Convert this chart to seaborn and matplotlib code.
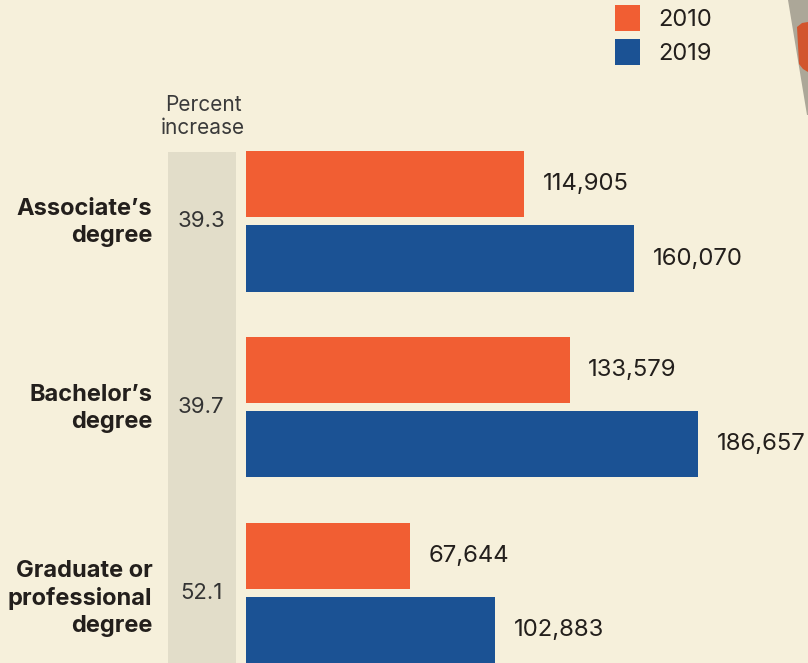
import matplotlib
matplotlib.use("Agg")
import matplotlib.pyplot as plt
import matplotlib.transforms as mtransforms
from matplotlib.patches import Rectangle, Patch, Polygon
import seaborn as sns
import pandas as pd

# ---- data ----
categories = ["Associate\u2019s\ndegree", "Bachelor\u2019s\ndegree", "Graduate or\nprofessional\ndegree"]
years = ["2010", "2019"]
values_2010 = [114905, 133579, 67644]
values_2019 = [160070, 186657, 102883]
pct_increase = ["39.3", "39.7", "52.1"]

bg = "#f6f0db"
col_2010 = "#f15e33"
col_2019 = "#1b5294"
grey_col = "#e2ddc9"
txt = "#231f1c"

df = pd.DataFrame({
    "degree": categories * 2,
    "year": [years[0]] * 3 + [years[1]] * 3,
    "count": values_2010 + values_2019,
})

sns.set_theme(style="white")
plt.rcParams["font.family"] = ["Inter", "DejaVu Sans"]

W, H = 808, 663
fig = plt.figure(figsize=(W / 100, H / 100), dpi=100, facecolor=bg)
ax = fig.add_axes([246 / W, 0, 1 - 246 / W, 1])
ax.set_facecolor(bg)

sns.barplot(data=df, x="count", y="degree", hue="year", order=categories,
            hue_order=years, palette=[col_2010, col_2019], width=0.796,
            gap=0.108, dodge=True, saturation=1, legend=False, ax=ax,
            linewidth=0, zorder=3)

ax.set_xlim(0, 232040)
ax.set_ylim(2.374, -1.191)
ax.set_xlabel("")
ax.set_ylabel("")
ax.set_xticks([])
for s in ax.spines.values():
    s.set_visible(False)

ax.tick_params(axis="y", length=0, pad=67.5, labelsize=17, colors=txt)
for lab in ax.get_yticklabels():
    lab.set_fontweight("bold")
    lab.set_linespacing(1.29)
    if lab.get_text().count("\n") == 1:
        lab.set_transform(lab.get_transform()
                          + mtransforms.ScaledTranslation(0, 4 / 100, fig.dpi_scale_trans))

for cont in ax.containers:
    ax.bar_label(cont, labels=[f"{v:,.0f}" for v in cont.datavalues],
                 padding=13.5, fontsize=17.2, color=txt)

# grey percent column
blend = mtransforms.blended_transform_factory(fig.transFigure, ax.transData)
ax.add_patch(Rectangle((168 / W, -0.374), 68 / W, 3.0, transform=blend,
                       facecolor=grey_col, edgecolor="none", clip_on=False, zorder=1))
for i, p in enumerate(pct_increase):
    ax.text(201 / W, i, p, transform=blend, ha="center", va="center",
            fontsize=16, color="#333333", zorder=4)
ax.text(203 / W, -0.567, "Percent\nincrease", transform=blend, ha="center",
        va="center", fontsize=15, color="#3a3a3a", linespacing=1.19)

# legend
handles = [Patch(facecolor=col_2010, edgecolor="none", label=years[0]),
           Patch(facecolor=col_2019, edgecolor="none", label=years[1])]
fig.legend(handles=handles, loc="upper left", bbox_to_anchor=(615 / W, 1 - 5 / H),
           frameon=False, fontsize=17, handlelength=1.07, handleheight=1.3,
           labelspacing=0.36, handletextpad=0.75, borderpad=0, borderaxespad=0,
           labelcolor=txt)

# decorative corner
fig.patches.append(Polygon([(788 / W, 1), (1, 1), (1, 1 - 115 / H), (807 / W, 1 - 115 / H)],
                           closed=True, transform=fig.transFigure, facecolor="#aca798",
                           edgecolor="none"))
fig.patches.append(Polygon([(797 / W, 1 - 27 / H), (802 / W, 1 - 23 / H), (1, 1 - 22 / H),
                            (1, 1 - 72 / H), (803 / W, 1 - 69 / H), (799 / W, 1 - 64 / H)],
                           closed=True, transform=fig.transFigure, facecolor="#d2552e",
                           edgecolor="none"))

fig.savefig("out.png", dpi=100, facecolor=bg)
